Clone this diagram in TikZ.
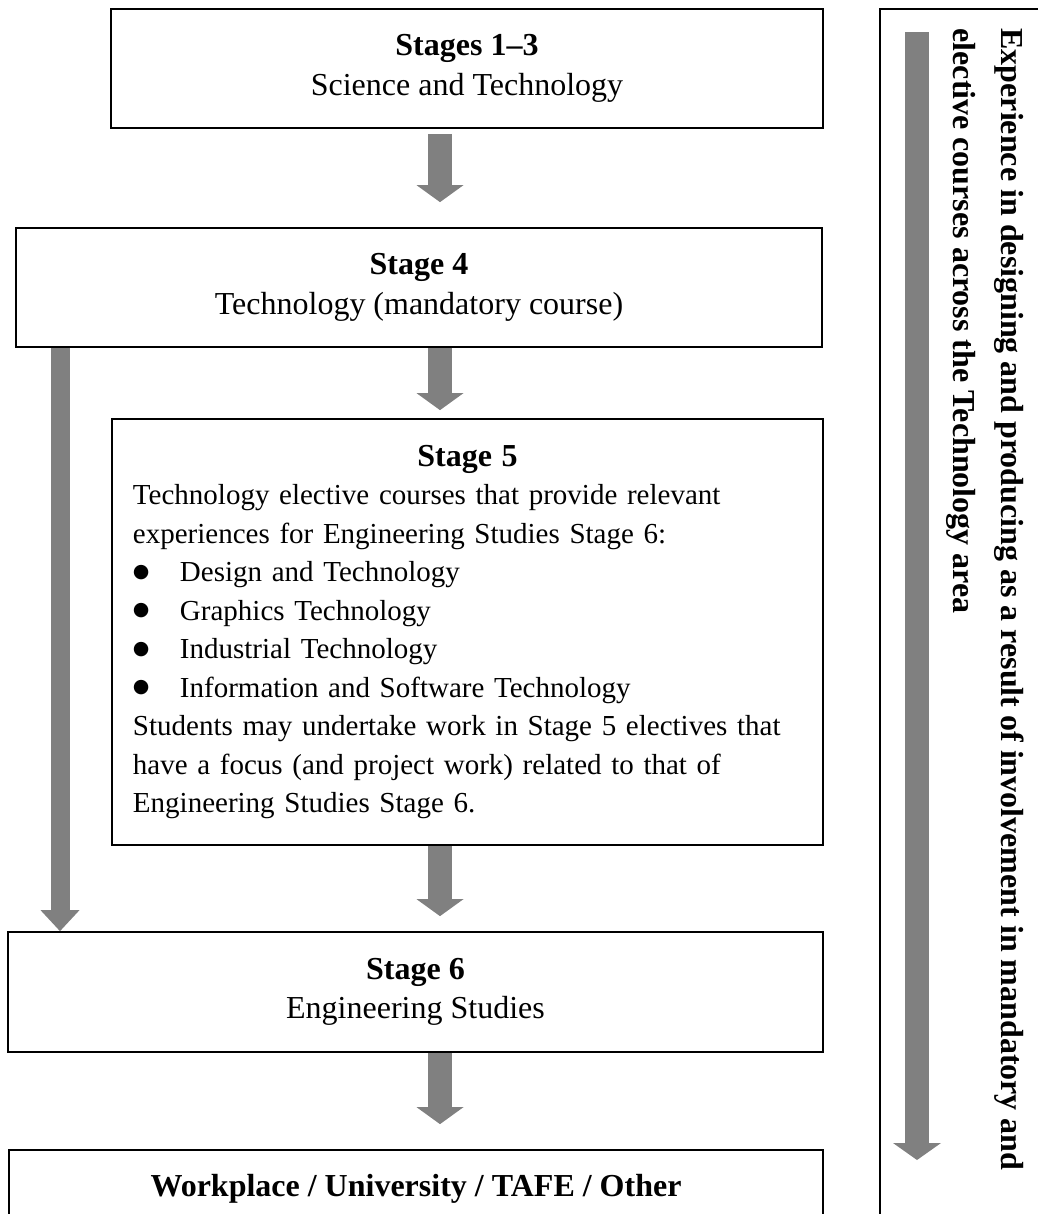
\documentclass[tikz,border=0pt]{standalone}
\usepackage{fontspec}
\setmainfont{Liberation Serif}
\newfontfamily\symfont{DejaVu Sans}
\usetikzlibrary{arrows.meta}
\definecolor{arrowgray}{HTML}{808080}
\newcommand{\bigbul}{\makebox[18.8pt][l]{\raisebox{1.8pt}{\symfont\fontsize{7.6pt}{7.6pt}\selectfont ●}}}
\begin{document}
\begin{tikzpicture}[x=0.4pt,y=-0.4pt,
  box/.style={draw=black, line width=0.7pt, rectangle, inner sep=0pt, align=center,
    font=\fontsize{12.8pt}{15.8pt}\selectfont},
  blk/.style={draw=arrowgray, line width=9.6pt,
    -{Triangle[width=18.8pt,length=6.8pt,line width=0pt]}},
  blkleft/.style={draw=arrowgray, line width=7.6pt,
    -{Triangle[width=15.6pt,length=8.4pt,line width=0pt]}},
  blkright/.style={draw=arrowgray, line width=9.6pt,
    -{Triangle[width=19.2pt,length=6.8pt,line width=0pt]}},
  sidetext/.style={rotate=-90, anchor=base west, inner sep=0pt,
    font=\fontsize{12.8pt}{15.8pt}\selectfont\bfseries}
]
\useasboundingbox (0,0) rectangle (1038,1214);
\clip (0,0) rectangle (1038,1214);

% boxes
\node[box, minimum width=284.8pt, minimum height=47.6pt] (b1) at (467,68.5)
  {\textbf{Stages 1–3}\\Science and Technology};
\node[box, minimum width=322.4pt, minimum height=47.6pt] (b2) at (419,287.5)
  {\textbf{Stage 4}\\Technology (mandatory course)};
\node[box, minimum width=284.4pt, minimum height=170.4pt, text width=267.6pt, align=left,
  font=\fontsize{11.6pt}{15.4pt}\selectfont] (b3) at (467.5,632)
  {\makebox[\hsize][c]{\fontsize{12.8pt}{15.4pt}\selectfont\textbf{Stage 5}}\\
   Technology elective courses that provide relevant\\
   experiences for Engineering Studies Stage 6:\\
   \bigbul Design and Technology\\
   \bigbul Graphics Technology\\
   \bigbul Industrial Technology\\
   \bigbul Information and Software Technology\\
   Students may undertake work in Stage 5 electives that\\
   have a focus (and project work) related to that of\\
   Engineering Studies Stage 6.};
\node[box, minimum width=326pt, minimum height=48pt] (b4) at (415.5,992)
  {\textbf{Stage 6}\\Engineering Studies};
\node[box, minimum width=325.6pt, minimum height=31.2pt] (b5) at (416,1189)
  {\textbf{Workplace / University / TAFE / Other}};

% right panel
\node[draw=black, line width=0.7pt, rectangle, inner sep=0pt, minimum width=100pt,
  minimum height=520pt, anchor=north west] (panel) at (879,8) {};
\node[sidetext] (r1) at (1001,28)
  {Experience in designing and producing as a result of involvement in mandatory and};
\node[sidetext] (r2) at (953,28)
  {elective courses across the Technology area};

% arrows
\coordinate (ax) at (440,0);
\coordinate (lx) at (60,0);
\coordinate (rtop) at (917,32);
\coordinate (rtip) at (917,1160);
\draw[blk, shorten <=2pt, shorten >=10pt] (b1.south -| ax) -- (b2.north -| ax);
\draw[blk, shorten >=3.2pt] (b2.south -| ax) -- (b3.north -| ax);
\draw[blk, shorten >=6pt] (b3.south -| ax) -- (b4.north -| ax);
\draw[blk, shorten >=10pt] (b4.south -| ax) -- (b5.north -| ax);
\draw[blkleft] (b2.south -| lx) -- (b4.north -| lx);
\draw[blkright] (rtop) -- (rtip);
\end{tikzpicture}
\end{document}
